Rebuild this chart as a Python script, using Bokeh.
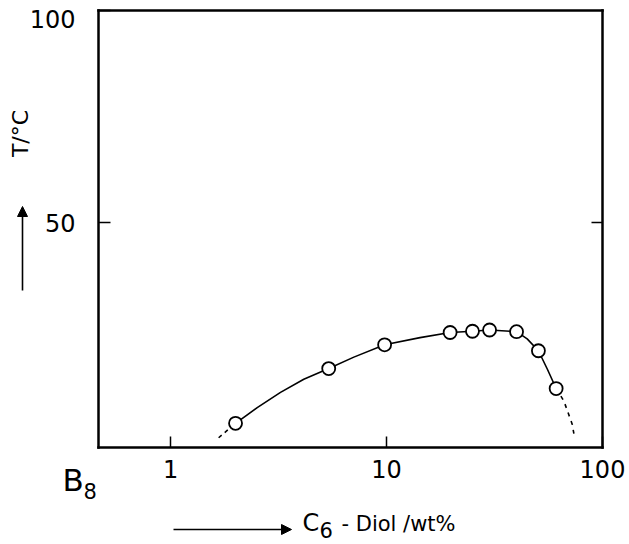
import numpy as np
from bokeh.plotting import figure
from bokeh.models import FixedTicker, LinearAxis, LogAxis, Arrow, NormalHead, Range1d
from bokeh.core.properties import value
from bokeh.embed import file_html
from bokeh.resources import INLINE

# ---- data ----
diol_wt = [2.0, 5.4, 9.8, 19.7, 25.0, 30.0, 40.0, 50.5, 61.0]
temp_c = [2.7, 15.6, 21.2, 24.1, 24.4, 24.7, 24.3, 19.8, 10.9]
curve_x = [2.0, 2.52, 3.23, 4.14, 5.4, 7.06, 9.8, 14.3, 19.7, 25.0, 30.0, 40.0, 44.8, 50.5, 55.5, 61.0]
curve_y = [2.7, 6.4, 10.0, 13.1, 15.6, 18.3, 21.2, 22.9, 24.1, 24.4, 24.7, 24.3, 22.6, 19.8, 15.5, 10.9]
dash_left_x = [1.67, 2.0]
dash_left_y = [-0.7, 2.7]
dash_right_x = [61.0, 66.2, 72.4, 74.2]
dash_right_y = [10.9, 8.0, 2.5, -0.6]
x_ticks = [1, 10, 100]
y_ticks = [50, 100]

# axis box limits (data)
X_START, X_END = 0.464, 100.0
Y_START, Y_END = -3.0, 100.0

# ---- layout (page pixels) ----
W, H = 629, 544
CL, CT = 0, 0                 # canvas origin on the page
CR, CB = CL + W, CT + H
BL, BR, BT, BB = 98, 602, 10, 447   # axis box on the page

DEC = (BR - BL) / np.log10(X_END / X_START)     # px per decade
PPU = (BB - BT) / (Y_END - Y_START)             # px per degree
FX0 = X_START * 10 ** ((CL - BL) / DEC)
FX1 = X_END * 10 ** ((CR - BR) / DEC)
FY1 = Y_END + (BT - CT) / PPU
FY0 = Y_START - (CB - BB) / PPU


def px_x(px):
    return FX0 * 10 ** ((px - CL) / DEC)


def px_y(py):
    return FY1 - (py - CT) / PPU


FONT = "DejaVu Sans"

p = figure(width=W, height=H, x_axis_type="log", output_backend="svg",
           toolbar_location=None, min_border=0,
           x_range=Range1d(FX0, FX1), y_range=Range1d(FY0, FY1))
p.background_fill_color = "white"
p.border_fill_color = "white"
p.outline_line_color = None
p.grid.visible = False


def style_axis(ax, tick_in):
    ax.major_tick_in = tick_in
    ax.major_tick_out = 0
    ax.minor_tick_line_color = None
    ax.axis_line_width = 2.5
    ax.axis_line_color = "black"
    ax.axis_line_cap = "square"
    ax.major_tick_line_width = 1.5
    ax.major_tick_line_color = "black"
    ax.major_label_text_font = FONT
    ax.major_label_text_font_size = "24px"
    ax.major_label_text_color = "black"


# bottom axis
xa = p.xaxis[0]
xa.fixed_location = Y_START
xa.bounds = (X_START, X_END)
xa.ticker = FixedTicker(ticks=x_ticks)
xa.major_label_overrides = {1: "1", 10: "10", 100: "100"}
style_axis(xa, 11)
xa.major_label_standoff = 12

# left axis
ya = p.yaxis[0]
ya.fixed_location = X_START
ya.bounds = (Y_START, Y_END)
ya.ticker = FixedTicker(ticks=y_ticks)
ya.major_label_overrides = {100: "", 50: "50"}
style_axis(ya, 12)
ya.major_label_standoff = 23
ya.major_label_orientation = "horizontal"

# right axis (inward tick at 50)
ra = LinearAxis(fixed_location=X_END, bounds=(Y_START, Y_END),
                ticker=FixedTicker(ticks=[50]), major_label_overrides={50: ""},
                major_label_standoff=0)
style_axis(ra, 11)
p.add_layout(ra, "right")

# top axis (no ticks)
ta = LogAxis(fixed_location=Y_END, bounds=(X_START, X_END),
             ticker=FixedTicker(ticks=[]), major_label_standoff=0)
style_axis(ta, 0)
p.add_layout(ta, "above")

# "100" label of the temperature axis, sitting just under the top edge
p.text(x=[X_START], y=[px_y(18)], text=["100"], x_offset=-23,
       text_align="right", text_baseline="middle", text_font=value(FONT),
       text_font_size="24px", text_color="black")

# curve and points
p.line(dash_left_x, dash_left_y, line_color="black", line_width=1.6, line_dash="4 4")
p.line(dash_right_x, dash_right_y, line_color="black", line_width=1.6, line_dash="4 5")
p.line(curve_x, curve_y, line_color="black", line_width=1.6)
p.scatter(diol_wt, temp_c, marker="circle", size=13, fill_color="white",
          line_color="black", line_width=1.8)


def txt(px, py, s, size, angle=0.0, align="left"):
    p.text(x=[px_x(px)], y=[px_y(py)], text=[s], angle=angle,
           text_align=align, text_baseline="middle", text_font=value(FONT),
           text_font_size=size, text_color="black")


# B8 (pure solvent end of the axis)
txt(62, 479, "B", "31px")
txt(83, 490, "8", "21px")

# x-axis title with arrow
p.add_layout(Arrow(end=NormalHead(size=10, fill_color="black", line_color="black"),
                   x_start=px_x(173), y_start=px_y(529), x_end=px_x(291), y_end=px_y(529),
                   line_color="black", line_width=1.6))
txt(302, 522, "C", "24px")
txt(319, 529, "6", "21px")
txt(341, 523, "- Diol /wt%", "21px")

# y-axis title with arrow
p.add_layout(Arrow(end=NormalHead(size=10, fill_color="black", line_color="black"),
                   x_start=px_x(22), y_start=px_y(290), x_end=px_x(22), y_end=px_y(206),
                   line_color="black", line_width=1.6))
txt(20, 133, "T/°C", "22px", angle=np.pi / 2, align="center")

open("out.html", "w").write(file_html(p, INLINE))
